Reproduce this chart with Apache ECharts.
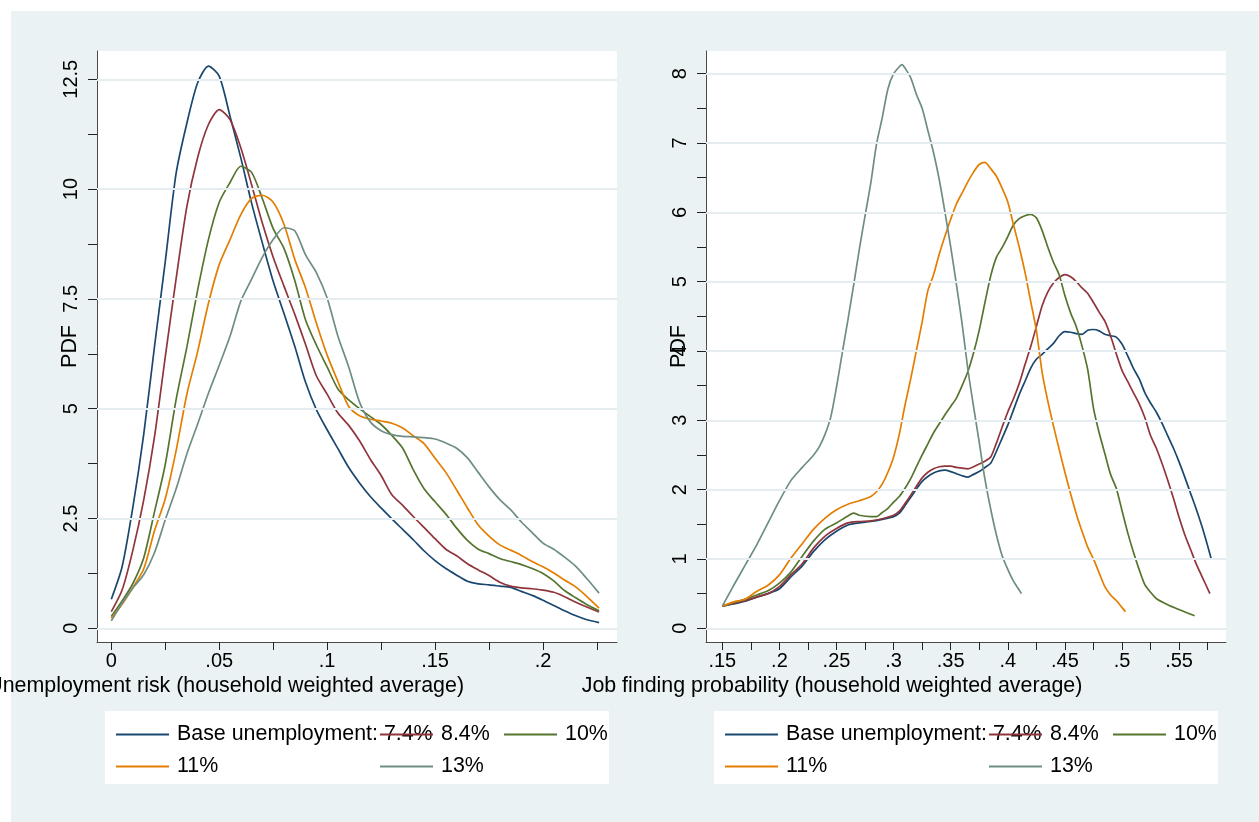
<!DOCTYPE html>
<html>
<head>
<meta charset="utf-8">
<title>Kernel densities by base unemployment</title>
<script src="https://cdn.jsdelivr.net/npm/echarts@6/dist/echarts.min.js"></script>
<style>
  html, body { margin: 0; padding: 0; background: #ffffff; }
  #chart { width: 1259px; height: 822px; }
</style>
</head>
<body>
<div id="chart"></div>
<script>
// ---- Series names and colours (Stata s2color order) ----
const seriesNames = ['Base unemployment: 7.4%', '8.4%', '10%', '11%', '13%'];
const seriesColors = ['#1a476f', '#90353b', '#55752f', '#e37e00', '#6e8e84'];

// ---- Left panel: unemployment risk densities ----
const riskGrid = [0, 0.005, 0.01, 0.015, 0.02, 0.025, 0.03, 0.035, 0.04, 0.045,
  0.05, 0.055, 0.06, 0.065, 0.07, 0.075, 0.08, 0.085, 0.09, 0.095,
  0.1, 0.105, 0.11, 0.115, 0.12, 0.125, 0.13, 0.135, 0.14, 0.145,
  0.15, 0.155, 0.16, 0.165, 0.17, 0.175, 0.18, 0.185, 0.19, 0.195,
  0.2, 0.205, 0.21, 0.215, 0.22, 0.226];
const risk74 = [0.66, 1.40, 2.76, 4.41, 6.41, 8.35, 10.35, 11.50, 12.42, 12.80,
  12.57, 11.66, 10.71, 9.68, 8.77, 7.90, 7.17, 6.42, 5.60, 4.98,
  4.52, 4.09, 3.66, 3.31, 3.00, 2.74, 2.49, 2.25, 2.01, 1.76,
  1.54, 1.36, 1.21, 1.07, 1.01, 0.99, 0.96, 0.93, 0.84, 0.75,
  0.64, 0.52, 0.40, 0.29, 0.20, 0.13];
const risk84 = [0.38, 0.87, 1.78, 2.92, 4.36, 6.18, 7.95, 9.60, 10.72, 11.47,
  11.81, 11.58, 10.94, 10.10, 9.22, 8.45, 7.79, 7.15, 6.46, 5.75,
  5.33, 4.90, 4.62, 4.27, 3.85, 3.48, 3.04, 2.80, 2.54, 2.29,
  2.04, 1.80, 1.65, 1.47, 1.33, 1.20, 1.05, 0.96, 0.92, 0.90,
  0.87, 0.82, 0.72, 0.60, 0.49, 0.37];
const risk10 = [0.27, 0.62, 1.02, 1.60, 2.65, 3.73, 5.20, 6.40, 7.70, 8.85,
  9.70, 10.15, 10.52, 10.38, 9.78, 9.10, 8.65, 7.92, 7.02, 6.45,
  5.95, 5.45, 5.20, 5.00, 4.82, 4.64, 4.39, 4.10, 3.60, 3.17,
  2.88, 2.60, 2.28, 2.00, 1.80, 1.70, 1.59, 1.52, 1.45, 1.36,
  1.25, 1.08, 0.86, 0.70, 0.55, 0.40];
const risk11 = [0.23, 0.55, 0.93, 1.35, 2.22, 2.95, 4.04, 5.33, 6.30, 7.40,
  8.28, 8.85, 9.42, 9.79, 9.86, 9.70, 9.20, 8.40, 7.75, 6.95,
  6.22, 5.62, 5.05, 4.84, 4.76, 4.72, 4.67, 4.56, 4.38, 4.20,
  3.87, 3.55, 3.15, 2.74, 2.35, 2.10, 1.90, 1.78, 1.66, 1.52,
  1.40, 1.26, 1.10, 0.95, 0.74, 0.46];
const risk13 = [0.17, 0.57, 0.92, 1.22, 1.72, 2.47, 3.17, 3.97, 4.65, 5.35,
  5.99, 6.65, 7.45, 7.95, 8.45, 8.85, 9.12, 9.05, 8.50, 8.10,
  7.52, 6.65, 5.95, 5.15, 4.70, 4.50, 4.41, 4.37, 4.36, 4.34,
  4.31, 4.22, 4.10, 3.88, 3.55, 3.22, 2.93, 2.70, 2.42, 2.18,
  1.94, 1.80, 1.62, 1.42, 1.15, 0.80];

// ---- Right panel: job finding probability densities, [x, pdf] ----
const job74 = [[0.15,0.32],[0.16,0.35],[0.17,0.39],[0.18,0.45],[0.19,0.50],[0.20,0.57],[0.21,0.74],[0.22,0.90],[0.23,1.11],[0.24,1.28],
  [0.25,1.40],[0.26,1.49],[0.27,1.52],[0.28,1.54],[0.29,1.57],[0.30,1.61],[0.305,1.66],[0.31,1.77],[0.315,1.89],[0.32,2.01],
  [0.325,2.12],[0.33,2.19],[0.335,2.24],[0.34,2.27],[0.345,2.28],[0.35,2.26],[0.355,2.23],[0.36,2.20],[0.365,2.18],[0.37,2.22],
  [0.375,2.26],[0.38,2.32],[0.385,2.38],[0.39,2.55],[0.395,2.74],[0.40,2.93],[0.405,3.15],[0.41,3.37],[0.415,3.56],[0.42,3.75],
  [0.425,3.88],[0.43,3.95],[0.435,4.03],[0.44,4.11],[0.445,4.22],[0.45,4.28],[0.455,4.27],[0.46,4.25],[0.465,4.24],[0.47,4.30],
  [0.475,4.31],[0.48,4.29],[0.485,4.24],[0.49,4.22],[0.495,4.20],[0.50,4.10],[0.505,3.93],[0.51,3.75],[0.515,3.60],[0.52,3.40],
  [0.525,3.25],[0.53,3.12],[0.535,2.96],[0.54,2.78],[0.545,2.60],[0.55,2.40],[0.555,2.18],[0.56,1.95],[0.565,1.72],[0.57,1.47],
  [0.575,1.19],[0.578,1.01]];
const job84 = [[0.15,0.32],[0.16,0.36],[0.17,0.40],[0.18,0.45],[0.19,0.50],[0.20,0.60],[0.21,0.77],[0.22,0.93],[0.23,1.16],[0.24,1.33],
  [0.25,1.44],[0.26,1.52],[0.27,1.54],[0.28,1.55],[0.29,1.58],[0.30,1.63],[0.305,1.69],[0.31,1.80],[0.315,1.92],[0.32,2.05],
  [0.325,2.17],[0.33,2.25],[0.335,2.30],[0.34,2.33],[0.345,2.34],[0.35,2.34],[0.355,2.32],[0.36,2.31],[0.365,2.30],[0.37,2.33],
  [0.375,2.37],[0.38,2.41],[0.385,2.47],[0.39,2.67],[0.395,2.90],[0.40,3.12],[0.405,3.31],[0.41,3.53],[0.415,3.80],[0.42,4.06],
  [0.425,4.35],[0.43,4.65],[0.435,4.85],[0.44,4.98],[0.445,5.06],[0.45,5.10],[0.455,5.07],[0.46,5.00],[0.465,4.91],[0.47,4.83],
  [0.475,4.70],[0.48,4.56],[0.485,4.43],[0.49,4.22],[0.495,3.96],[0.50,3.72],[0.505,3.56],[0.51,3.40],[0.515,3.24],[0.52,3.04],
  [0.525,2.78],[0.53,2.60],[0.535,2.38],[0.54,2.14],[0.545,1.88],[0.55,1.60],[0.555,1.35],[0.56,1.14],[0.565,0.93],[0.57,0.75],
  [0.577,0.50]];
const job10 = [[0.15,0.32],[0.16,0.37],[0.17,0.42],[0.18,0.48],[0.19,0.54],[0.20,0.65],[0.21,0.81],[0.22,1.04],[0.23,1.26],[0.24,1.43],
  [0.25,1.52],[0.26,1.62],[0.265,1.66],[0.27,1.63],[0.28,1.61],[0.285,1.61],[0.29,1.67],[0.295,1.73],[0.30,1.82],[0.305,1.90],
  [0.31,2.02],[0.315,2.16],[0.32,2.33],[0.325,2.50],[0.33,2.66],[0.335,2.82],[0.34,2.95],[0.345,3.08],[0.35,3.20],[0.355,3.32],
  [0.36,3.50],[0.365,3.70],[0.37,3.97],[0.375,4.30],[0.38,4.70],[0.385,5.08],[0.39,5.35],[0.395,5.49],[0.40,5.65],[0.405,5.82],
  [0.41,5.91],[0.415,5.95],[0.42,5.97],[0.425,5.92],[0.43,5.74],[0.435,5.50],[0.44,5.28],[0.445,5.10],[0.45,4.80],[0.455,4.55],
  [0.46,4.35],[0.465,4.07],[0.47,3.73],[0.475,3.18],[0.48,2.82],[0.485,2.52],[0.49,2.22],[0.495,2.02],[0.50,1.70],[0.505,1.38],
  [0.51,1.10],[0.515,0.85],[0.52,0.63],[0.525,0.52],[0.53,0.43],[0.54,0.34],[0.55,0.27],[0.5636,0.18]];
const job11 = [[0.15,0.32],[0.16,0.38],[0.17,0.42],[0.18,0.53],[0.19,0.62],[0.20,0.77],[0.21,1.01],[0.22,1.22],[0.23,1.43],[0.24,1.59],
  [0.25,1.71],[0.26,1.79],[0.27,1.84],[0.28,1.90],[0.285,1.97],[0.29,2.08],[0.295,2.25],[0.30,2.47],[0.305,2.80],[0.31,3.22],
  [0.315,3.60],[0.32,4.01],[0.325,4.42],[0.33,4.87],[0.335,5.10],[0.34,5.40],[0.345,5.66],[0.35,5.90],[0.355,6.12],[0.36,6.28],
  [0.365,6.44],[0.37,6.58],[0.375,6.69],[0.38,6.72],[0.385,6.63],[0.39,6.52],[0.395,6.35],[0.40,6.15],[0.405,5.82],[0.41,5.50],
  [0.415,5.14],[0.42,4.72],[0.425,4.30],[0.43,3.70],[0.435,3.28],[0.44,2.92],[0.445,2.58],[0.45,2.25],[0.455,1.94],[0.46,1.65],
  [0.465,1.40],[0.47,1.17],[0.475,1.00],[0.48,0.80],[0.485,0.60],[0.49,0.48],[0.495,0.40],[0.50,0.30],[0.503,0.24]];
const job13 = [[0.15,0.32],[0.16,0.62],[0.17,0.91],[0.18,1.20],[0.19,1.52],[0.20,1.84],[0.21,2.13],[0.22,2.32],[0.23,2.50],[0.235,2.62],
  [0.24,2.80],[0.245,3.05],[0.25,3.48],[0.255,3.97],[0.26,4.45],[0.265,4.95],[0.27,5.47],[0.275,5.95],[0.28,6.42],[0.285,6.98],
  [0.29,7.36],[0.295,7.78],[0.30,8.00],[0.305,8.10],[0.3074,8.13],[0.31,8.08],[0.315,7.94],[0.32,7.70],[0.325,7.50],[0.33,7.18],
  [0.335,6.86],[0.34,6.47],[0.345,6.00],[0.35,5.50],[0.355,4.96],[0.36,4.39],[0.365,3.74],[0.37,3.20],[0.375,2.68],[0.38,2.15],
  [0.385,1.72],[0.39,1.35],[0.395,1.05],[0.40,0.85],[0.405,0.68],[0.412,0.50]];

// ---- Axis ticks and labels ----
const riskXTicks = [0, 0.025, 0.05, 0.075, 0.1, 0.125, 0.15, 0.175, 0.2, 0.225];
const riskXLabels = [0, 0.05, 0.1, 0.15, 0.2];
const riskYTicks = [0, 1.25, 2.5, 3.75, 5, 6.25, 7.5, 8.75, 10, 11.25, 12.5];
const riskYLabels = [0, 2.5, 5, 7.5, 10, 12.5];
const jobXTicks = [0.15, 0.175, 0.2, 0.225, 0.25, 0.275, 0.3, 0.325, 0.35, 0.375,
  0.4, 0.425, 0.45, 0.475, 0.5, 0.525, 0.55, 0.575];
const jobXLabels = [0.15, 0.2, 0.25, 0.3, 0.35, 0.4, 0.45, 0.5, 0.55];
const jobYTicks = [0, 0.5, 1, 1.5, 2, 2.5, 3, 3.5, 4, 4.5, 5, 5.5, 6, 6.5, 7, 7.5, 8];
const jobYLabels = [0, 1, 2, 3, 4, 5, 6, 7, 8];

const riskTitle = 'Unemployment risk (household weighted average)';
const jobTitle = 'Job finding probability (household weighted average)';
const yTitle = 'PDF';

// ---- Styling ----
const FONT = '"Liberation Sans", Arial, Helvetica, sans-serif';
const REGION = '#eaf2f3';
const GRIDLINE = '#e5edf1';
const AXIS = '#4a4a4a';
const TITLE_SIZE = 21.4;

// Stata-style decimal labels: ".05" rather than "0.05"
const decimalLabel = v => {
  const s = String(Number(v.toFixed(3)));
  return s.replace(/^0\./, '.');
};

function xAxisFor(gridIndex, min, max, ticks, labels) {
  return {
    type: 'value', gridIndex, min, max,
    axisLine: { show: true, onZero: false, lineStyle: { color: AXIS, width: 1 } },
    axisTick: { show: true, length: 8, customValues: ticks, lineStyle: { color: '#222', width: 1 } },
    axisLabel: { customValues: labels, margin: 9, fontSize: 20, color: '#000', fontFamily: FONT, formatter: decimalLabel },
    splitLine: { show: false }
  };
}

function yAxisFor(gridIndex, min, max, ticks, labels) {
  return {
    type: 'value', gridIndex, min, max,
    axisLine: { show: true, onZero: false, lineStyle: { color: AXIS, width: 1 } },
    axisTick: { show: true, length: 9, customValues: ticks, lineStyle: { color: '#222', width: 1 } },
    axisLabel: { customValues: labels, rotate: 90, margin: 16, fontSize: 20, color: '#000', fontFamily: FONT,
      formatter: v => String(Number(v.toFixed(2))) },
    splitLine: { show: false },
    name: yTitle, nameLocation: 'middle', nameRotate: 90, nameGap: 16, nameMoveOverlap: false,
    nameTextStyle: { fontSize: TITLE_SIZE, color: '#000', fontFamily: FONT }
  };
}

// Horizontal reference lines at the labelled y values
function gridSeries(axisIndex, values) {
  return {
    type: 'line', xAxisIndex: axisIndex, yAxisIndex: axisIndex, data: [], z: 1, silent: true,
    markLine: {
      silent: true, symbol: ['none', 'none'], label: { show: false },
      lineStyle: { color: GRIDLINE, width: 2, type: 'solid' },
      emphasis: { disabled: true },
      data: values.map(v => ({ yAxis: v }))
    }
  };
}

function curve(axisIndex, idx, data) {
  return {
    name: seriesNames[idx], type: 'line', xAxisIndex: axisIndex, yAxisIndex: axisIndex,
    data, showSymbol: false, symbol: 'none', smooth: 0.25, z: 3,
    lineStyle: { color: seriesColors[idx], width: 1.7 },
    itemStyle: { color: seriesColors[idx] },
    emphasis: { disabled: true }
  };
}

const zip = (xs, ys) => xs.map((x, i) => [x, ys[i]]);
const riskCurves = [risk74, risk84, risk10, risk11, risk13].map(ys => zip(riskGrid, ys));
const jobCurves = [job74, job84, job10, job11, job13];

// Legend layout: key start x and row, relative to each panel's legend box
const legendSlots = [
  { dx: 11, row: 0 }, { dx: 275, row: 0 }, { dx: 399, row: 0 },
  { dx: 11, row: 1 }, { dx: 275, row: 1 }
];
const legendBoxes = [{ x: 105, y: 711 }, { x: 714, y: 711 }];

const legends = [];
legendBoxes.forEach(box => {
  legendSlots.forEach((slot, i) => {
    legends.push({
      data: [seriesNames[i]], left: box.x + slot.dx, top: box.y + 13 + slot.row * 32,
      padding: 0, icon: 'rect', itemWidth: 53, itemHeight: 2, selectedMode: false,
      textStyle: { fontSize: TITLE_SIZE, color: '#000', fontFamily: FONT, padding: [0, 0, 0, 3] }
    });
  });
});

const chart = echarts.init(document.getElementById('chart'), null, { renderer: 'canvas' });
chart.setOption({
  animation: false,
  backgroundColor: 'transparent',
  textStyle: { fontFamily: FONT },
  graphic: {
    elements: [
      { type: 'rect', z: -20, silent: true, shape: { x: 11, y: 11, width: 1248, height: 811 }, style: { fill: REGION } },
      { type: 'rect', z: -10, silent: true, shape: { x: legendBoxes[0].x, y: legendBoxes[0].y, width: 504, height: 73 }, style: { fill: '#ffffff' } },
      { type: 'rect', z: -10, silent: true, shape: { x: legendBoxes[1].x, y: legendBoxes[1].y, width: 504, height: 73 }, style: { fill: '#ffffff' } },
      { type: 'text', z: 5, silent: true, style: { text: riskTitle, x: 464, y: 686, textAlign: 'right', textVerticalAlign: 'middle', font: TITLE_SIZE + 'px ' + FONT, fill: '#000' } },
      { type: 'text', z: 5, silent: true, style: { text: jobTitle, x: 832, y: 686, textAlign: 'center', textVerticalAlign: 'middle', font: TITLE_SIZE + 'px ' + FONT, fill: '#000' } }
    ]
  },
  grid: [
    { left: 97, top: 51, width: 520, height: 591, show: true, backgroundColor: '#ffffff', borderWidth: 0 },
    { left: 706, top: 51, width: 520, height: 591, show: true, backgroundColor: '#ffffff', borderWidth: 0 }
  ],
  xAxis: [
    xAxisFor(0, -0.00663, 0.2343, riskXTicks, riskXLabels),
    xAxisFor(1, 0.1357, 0.5911, jobXTicks, jobXLabels)
  ],
  yAxis: [
    yAxisFor(0, -0.312, 13.144, riskYTicks, riskYLabels),
    yAxisFor(1, -0.198, 8.327, jobYTicks, jobYLabels)
  ],
  legend: legends,
  series: [
    gridSeries(0, riskYLabels),
    gridSeries(1, jobYLabels),
    ...riskCurves.map((d, i) => curve(0, i, d)),
    ...jobCurves.map((d, i) => curve(1, i, d))
  ]
});
</script>
</body>
</html>
